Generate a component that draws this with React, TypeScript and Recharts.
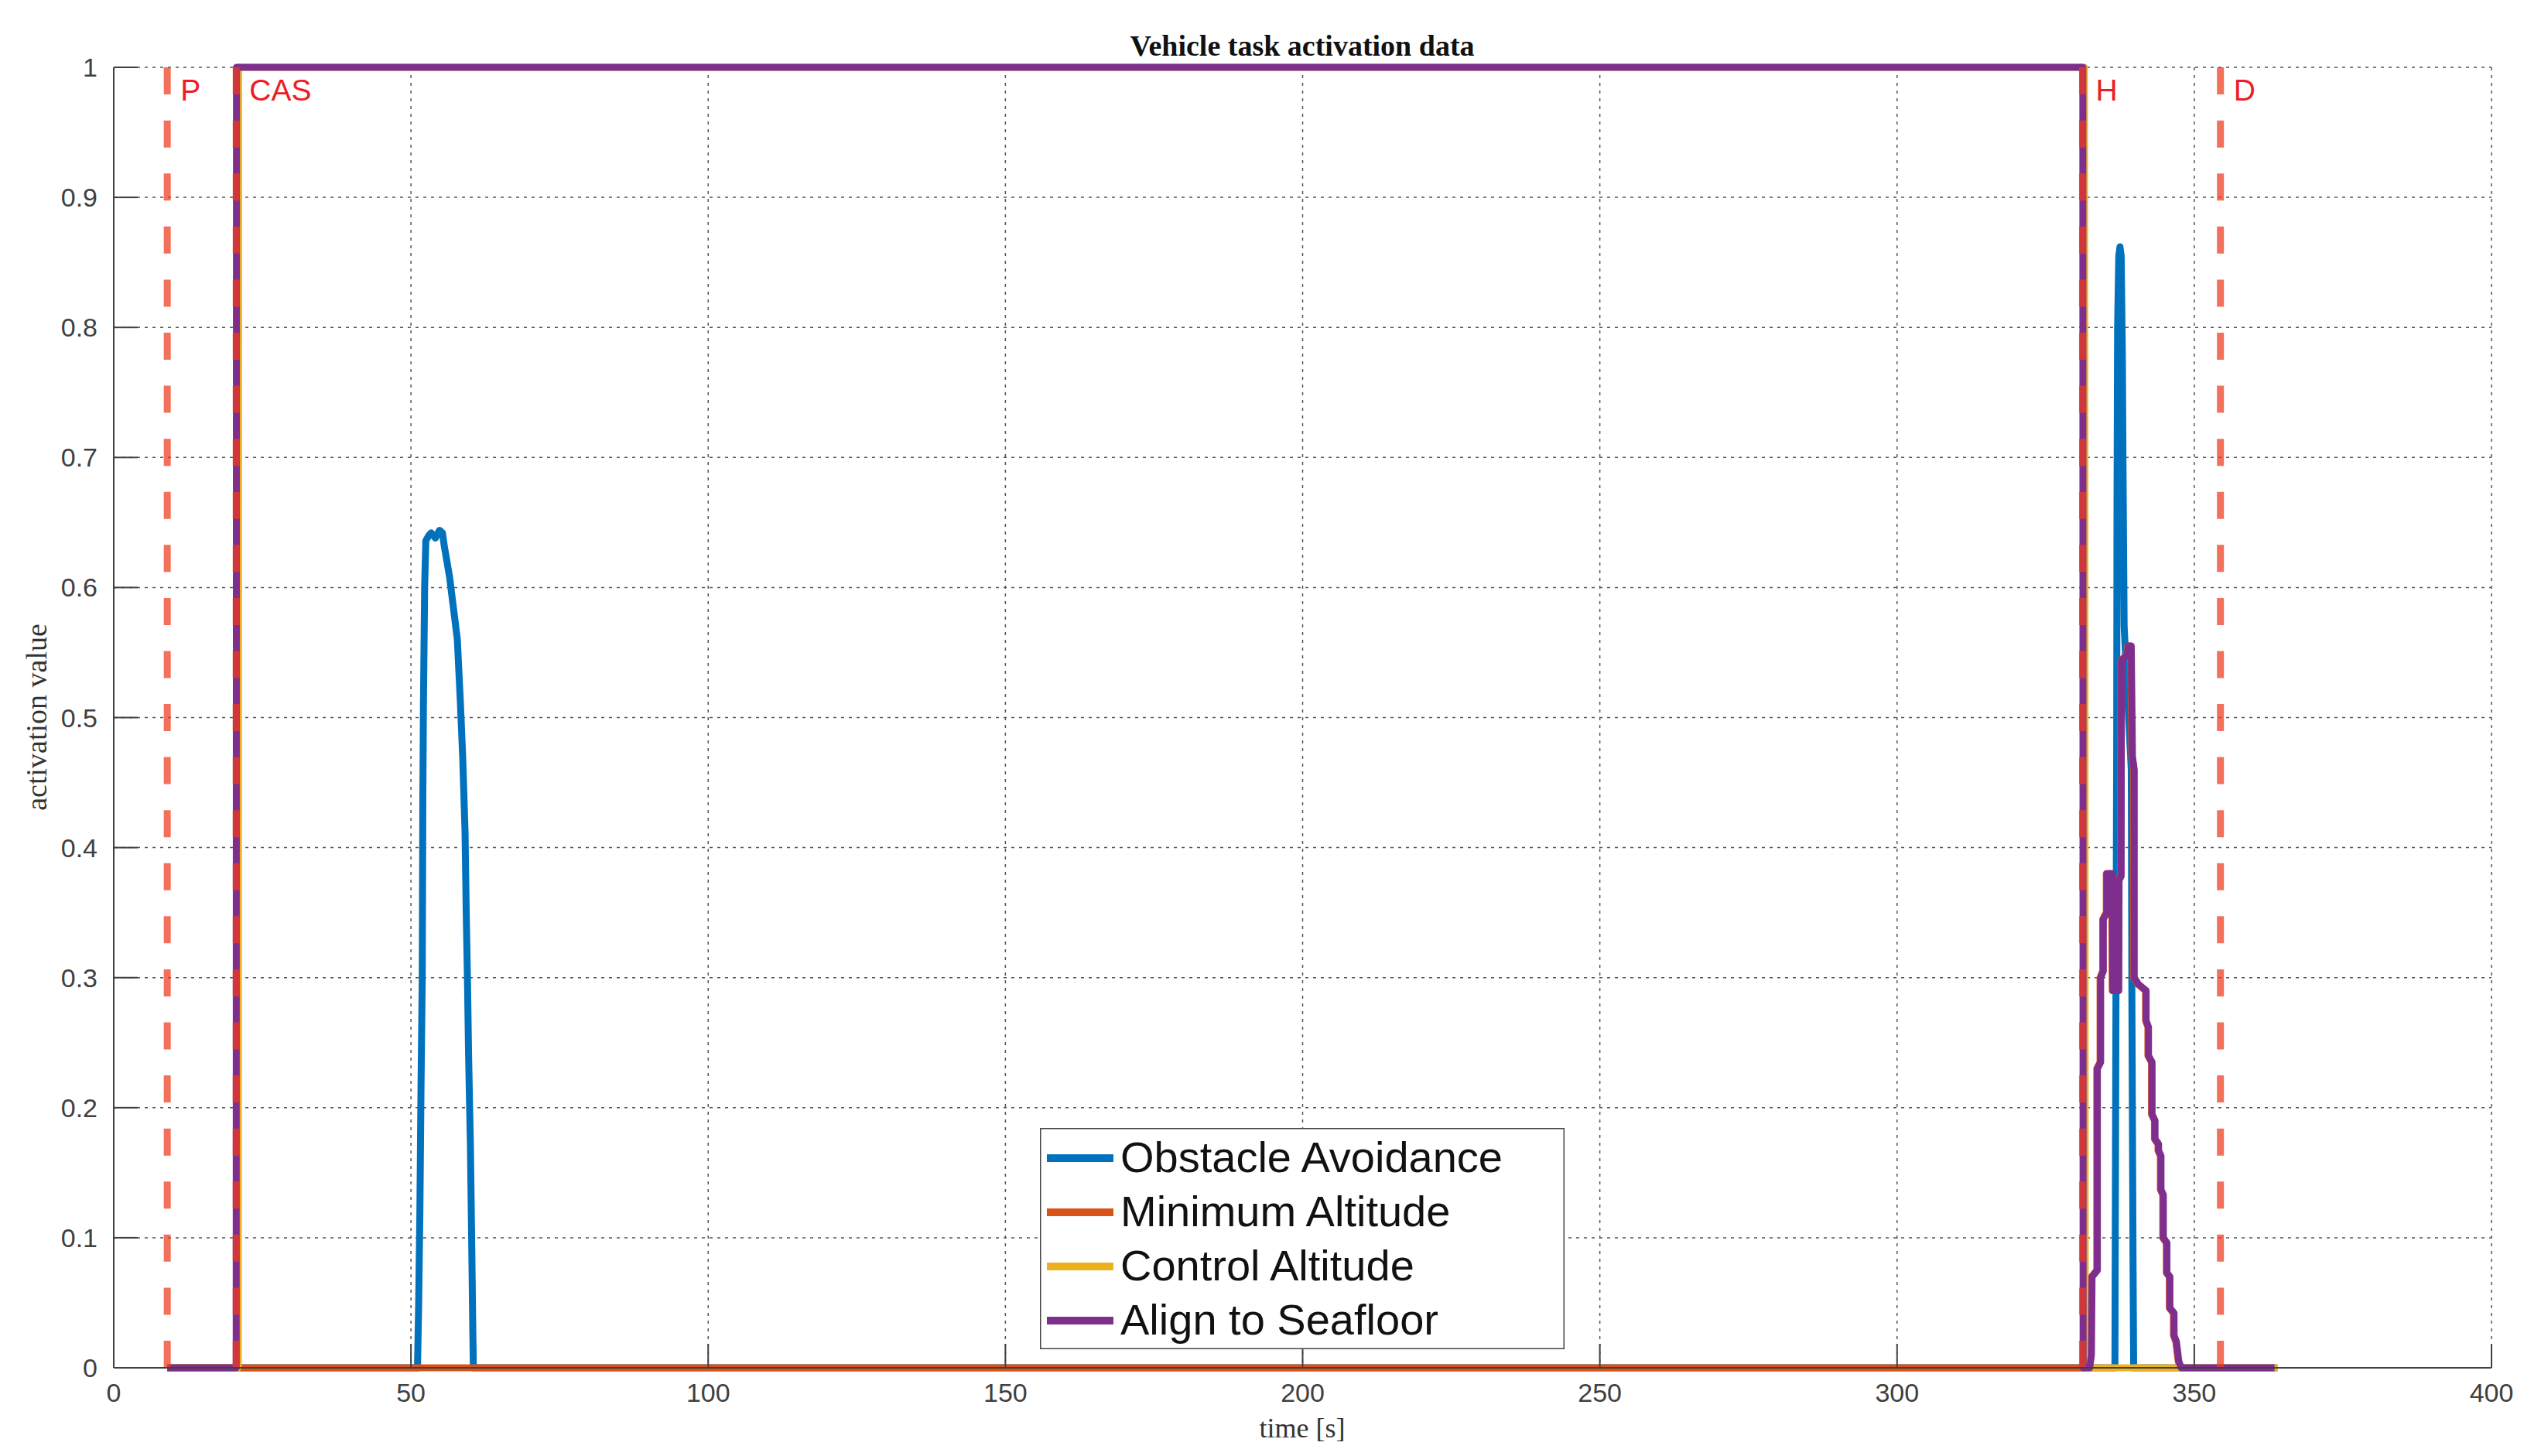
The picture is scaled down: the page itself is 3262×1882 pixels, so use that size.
import { LineChart, Line, XAxis, YAxis, CartesianGrid, ReferenceLine, Legend } from 'recharts'

// ─── Data ─────────────────────────────────────────────────────────────────────

const X_TICKS = [0, 50, 100, 150, 200, 250, 300, 350, 400]
const Y_TICKS = [0, 0.1, 0.2, 0.3, 0.4, 0.5, 0.6, 0.7, 0.8, 0.9, 1]

// phase markers (time in s)
const PHASE_TIMES = [9, 20.6, 331.2, 354.4]
const PHASE_LABELS = ['P', 'CAS', 'H', 'D']

// [time, activation]
const OBSTACLE_AVOIDANCE: [number, number][] = [
  [9, 0], [51.1, 0], [51.3, 0.05], [51.5, 0.12], [51.7, 0.22], [51.9, 0.3], [52.0, 0.44],
  [52.1, 0.51], [52.3, 0.6], [52.5, 0.636], [53.0, 0.64], [53.4, 0.642], [54.1, 0.638],
  [54.8, 0.644], [55.3, 0.642], [55.6, 0.632], [56.5, 0.608], [57.1, 0.586], [57.8, 0.56],
  [58.3, 0.513], [58.7, 0.47], [59.1, 0.412], [59.3, 0.349], [59.5, 0.3], [59.7, 0.239],
  [60.0, 0.171], [60.2, 0.103], [60.4, 0.03], [60.5, 0],
  [336.65, 0], [336.8, 0.25], [336.95, 0.48], [337.0, 0.66], [337.1, 0.8], [337.3, 0.855],
  [337.5, 0.862], [337.7, 0.855], [337.9, 0.78], [338.0, 0.7], [338.2, 0.57], [339.4, 0.46],
  [339.5, 0.29], [339.7, 0.08], [339.8, 0], [364, 0],
]

const MINIMUM_ALTITUDE: [number, number][] = [
  [9, 0], [332.3, 0], [332.7, 0.07], [333.6, 0.075], [333.6, 0.23], [334.15, 0.235],
  [334.15, 0.3], [334.6, 0.305], [334.6, 0.345], [335.2, 0.35], [335.2, 0.38], [336.1, 0.38],
  [336.2, 0.29], [337.2, 0.29], [337.25, 0.375], [337.6, 0.378], [337.65, 0.544],
  [338.6, 0.548], [338.8, 0.555], [339.3, 0.555], [339.5, 0.47], [339.8, 0.46], [339.8, 0.3],
  [340.5, 0.295], [341.8, 0.29], [341.8, 0.267], [342.2, 0.262], [342.2, 0.24], [342.8, 0.235],
  [342.8, 0.195], [343.3, 0.19], [343.3, 0.176], [343.9, 0.172], [343.9, 0.167], [344.3, 0.163],
  [344.3, 0.137], [344.7, 0.133], [344.7, 0.1], [345.3, 0.096], [345.3, 0.073], [345.8, 0.07],
  [345.8, 0.046], [346.5, 0.042], [346.5, 0.025], [346.9, 0.02], [347.3, 0.005], [347.7, 0],
]

const CONTROL_ALTITUDE: [number, number][] = [
  [9, 0], [20.95, 0], [21.0, 1], [331.5, 1], [331.6, 0.67], [331.65, 0.05], [331.9, 0], [364, 0],
]

const ALIGN_TO_SEAFLOOR: [number, number][] = [
  [9, 0], [20.6, 0], [20.65, 1], [331.25, 1], [331.3, 0], [332.4, 0], [332.7, 0.01],
  [332.8, 0.07], [333.7, 0.075], [333.7, 0.23], [334.25, 0.235], [334.25, 0.3], [334.7, 0.305],
  [334.7, 0.345], [335.3, 0.35], [335.3, 0.38], [336.2, 0.38], [336.3, 0.29], [337.3, 0.29],
  [337.35, 0.375], [337.7, 0.378], [337.75, 0.544], [338.7, 0.548], [338.9, 0.555],
  [339.4, 0.555], [339.6, 0.47], [339.9, 0.46], [339.9, 0.3], [340.6, 0.295], [341.9, 0.29],
  [341.9, 0.267], [342.3, 0.262], [342.3, 0.24], [342.9, 0.235], [342.9, 0.195], [343.4, 0.19],
  [343.4, 0.176], [344.0, 0.172], [344.0, 0.167], [344.4, 0.163], [344.4, 0.137], [344.8, 0.133],
  [344.8, 0.1], [345.4, 0.096], [345.4, 0.073], [345.9, 0.07], [345.9, 0.046], [346.6, 0.042],
  [346.6, 0.025], [347.0, 0.02], [347.4, 0.005], [347.8, 0], [363.5, 0],
]

const SERIES = [
  { name: 'Obstacle Avoidance', color: '#0072BD', data: OBSTACLE_AVOIDANCE },
  { name: 'Minimum Altitude', color: '#D95319', data: MINIMUM_ALTITUDE },
  { name: 'Control Altitude', color: '#EDB120', data: CONTROL_ALTITUDE },
  { name: 'Align to Seafloor', color: '#7E2F8E', data: ALIGN_TO_SEAFLOOR },
]

// ─── Style ────────────────────────────────────────────────────────────────────

const SANS = '"Liberation Sans", Arial, Helvetica, sans-serif'
const SERIF = '"Liberation Serif", "Times New Roman", serif'
const AXIS_COLOR = '#404040'
const TICK_LEN = 31

const toPoints = (arr: [number, number][]) => arr.map(([t, v]) => ({ t, v }))

// ─── Ticks (MATLAB style: inward tick marks) ──────────────────────────────────

function XTick({ x, y, payload }: any) {
  return (
    <g>
      <line x1={x} y1={y} x2={x} y2={y - TICK_LEN} stroke={AXIS_COLOR} strokeWidth={2} />
      <text x={x} y={y + 44} textAnchor="middle" fontSize={34} fontFamily={SANS} fill={AXIS_COLOR}>
        {String(payload.value)}
      </text>
    </g>
  )
}

function YTick({ x, y, payload }: any) {
  return (
    <g>
      <line x1={x} y1={y} x2={x + TICK_LEN} y2={y} stroke={AXIS_COLOR} strokeWidth={2} />
      <text x={x - 21} y={y + 12} textAnchor="end" fontSize={34} fontFamily={SANS} fill={AXIS_COLOR}>
        {String(payload.value)}
      </text>
    </g>
  )
}

function phaseLabel(text: string) {
  return ({ viewBox }: any) => (
    <text
      x={viewBox.x + 17}
      y={viewBox.y + 43}
      fontSize={39}
      fontFamily={SANS}
      fill="#EE1C25"
    >
      {text}
    </text>
  )
}

// ─── Legend ───────────────────────────────────────────────────────────────────

function LegendBox() {
  return (
    <svg width={678} height={286} style={{ display: 'block' }}>
      <rect x={0.75} y={0.75} width={676.5} height={284.5} fill="#fff" stroke="#444" strokeWidth={1.5} />
      {SERIES.map((s, i) => (
        <g key={s.name}>
          <line x1={9} x2={95} y1={39 + i * 70} y2={39 + i * 70} stroke={s.color} strokeWidth={10} />
          <text x={104} y={57 + i * 70} fontSize={56} fontFamily={SANS} fill="#111">
            {s.name}
          </text>
        </g>
      ))}
    </svg>
  )
}

// ─── Component ────────────────────────────────────────────────────────────────

export default function App() {
  return (
    <div style={{ position: 'absolute', left: 0, top: 0, width: 3262, height: 1882, background: '#fff' }}>
      <LineChart
        width={3262}
        height={1882}
        margin={{ top: 87, right: 42, bottom: 34, left: 47 }}
      >
        <CartesianGrid stroke="#555" strokeWidth={1.5} strokeDasharray="4 6" />
        <XAxis
          type="number"
          dataKey="t"
          domain={[0, 400]}
          ticks={X_TICKS}
          height={80}
          tickSize={0}
          tickMargin={0}
          tick={<XTick />}
          axisLine={{ stroke: AXIS_COLOR, strokeWidth: 2 }}
        />
        <YAxis
          type="number"
          domain={[0, 1]}
          ticks={Y_TICKS}
          width={100}
          tickSize={0}
          tickMargin={0}
          tick={<YTick />}
          axisLine={{ stroke: AXIS_COLOR, strokeWidth: 2 }}
        />
        {SERIES.map((s) => (
          <Line
            key={s.name}
            name={s.name}
            data={toPoints(s.data)}
            dataKey="v"
            type="linear"
            stroke={s.color}
            strokeWidth={9}
            strokeLinejoin="round"
            strokeLinecap="butt"
            dot={false}
            activeDot={false}
            isAnimationActive={false}
          />
        ))}
        {PHASE_TIMES.map((t, i) => (
          <ReferenceLine
            key={PHASE_LABELS[i]}
            x={t}
            stroke="#EE3A1A"
            strokeOpacity={0.72}
            strokeWidth={9}
            strokeDasharray="35 33.58"
            label={phaseLabel(PHASE_LABELS[i])}
          />
        ))}
        <Legend
          layout="vertical"
          align="center"
          verticalAlign="middle"
          content={<LegendBox />}
          wrapperStyle={{ position: 'absolute', left: 1344, top: 1458, width: 678, height: 286 }}
        />
      </LineChart>

      {/* title and axis labels */}
      <svg
        width={3262}
        height={1882}
        style={{ position: 'absolute', left: 0, top: 0, pointerEvents: 'none' }}
      >
        <text x={1683} y={72} textAnchor="middle" fontSize={38} fontWeight="bold" fontFamily={SERIF} fill="#111">
          Vehicle task activation data
        </text>
        <text x={1683} y={1858} textAnchor="middle" fontSize={36} fontFamily={SERIF} fill="#333">
          time [s]
        </text>
        <text
          x={60}
          y={927}
          transform="rotate(-90 60 927)"
          textAnchor="middle"
          fontSize={38}
          fontFamily={SERIF}
          fill="#333"
        >
          activation value
        </text>
      </svg>
    </div>
  )
}
